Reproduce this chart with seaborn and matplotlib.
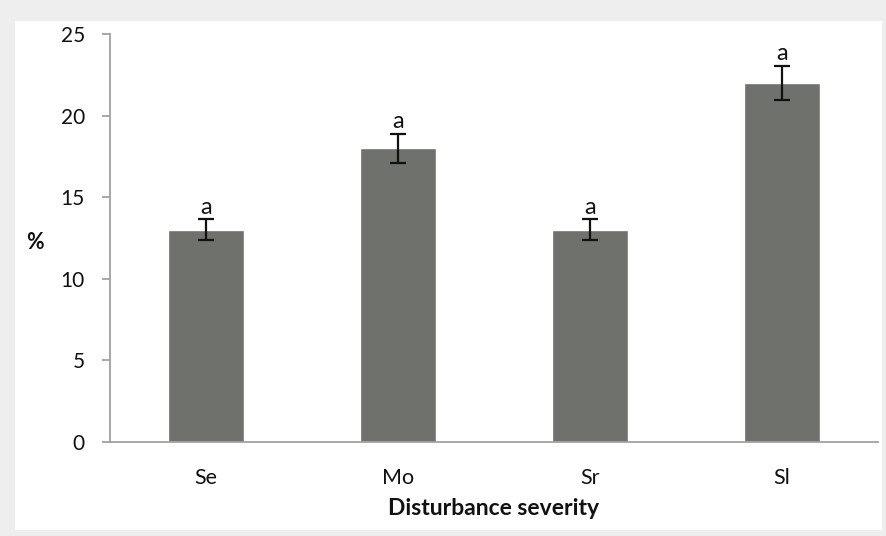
import pandas as pd
import matplotlib.pyplot as plt
import seaborn as sns
from matplotlib.patches import Rectangle

# valores
categorias = ['Se', 'Mo', 'Sr', 'Sl']
porcentaje = [13.0, 18.0, 13.0, 22.0]
error = [0.65, 0.9, 0.65, 1.05]
letras = ['a', 'a', 'a', 'a']

df = pd.DataFrame({'severity': categorias, 'pct': porcentaje})

sns.set_theme(style="white")
plt.rcParams['font.family'] = ['Lato', 'DejaVu Sans']

fig = plt.figure(figsize=(8.87, 5.36), dpi=100)
fig.patch.set_facecolor('#eeeeee')
# panel blanco detras de la grafica
fig.patches.append(Rectangle((15 / 887, 1 - 530 / 536), 867 / 887, 509 / 536,
                             transform=fig.transFigure, facecolor='white',
                             edgecolor='none', zorder=-10))

ax = fig.add_axes([110 / 887, 1 - 442 / 536, 768 / 887, 408 / 536])
ax.set_facecolor('none')

sns.barplot(data=df, x='severity', y='pct', color='#6f716c', width=0.4,
            saturation=1, ax=ax)
ax.errorbar(range(len(categorias)), porcentaje, yerr=error, fmt='none',
            ecolor='#111111', elinewidth=1.6, capsize=6, capthick=1.6)

# letras de significancia encima de cada barra
for i, (v, e, t) in enumerate(zip(porcentaje, error, letras)):
    ax.text(i, v + e + 0.1, t, ha='center', va='bottom', fontsize=17,
            color='#111111')

ax.set_ylim(0, 25)
ax.set_xlim(-0.5, 3.5)
ax.set_yticks([0, 5, 10, 15, 20, 25])

for s in ['top', 'right']:
    ax.spines[s].set_visible(False)
for s in ['left', 'bottom']:
    ax.spines[s].set_color('#a0a0a0')
    ax.spines[s].set_linewidth(1.3)

ax.tick_params(axis='y', which='major', left=True, length=6, width=1.3,
               color='#a0a0a0', labelsize=15, pad=12, labelcolor='#111111')
ax.tick_params(axis='x', bottom=False, length=0, labelsize=15.5, pad=19,
               labelcolor='#111111')

ax.set_xlabel('Disturbance severity', fontsize=16.5, fontweight='bold',
              color='#111111', va='center')
ax.set_ylabel('%', fontsize=15.5, fontweight='bold', rotation=0,
              color='#111111', va='center', ha='center')
ax.xaxis.set_label_coords(0.5, -0.162)
ax.yaxis.set_label_coords(-0.098, 0.488)

plt.savefig('out.png', dpi=100, facecolor=fig.get_facecolor())
plt.close()
